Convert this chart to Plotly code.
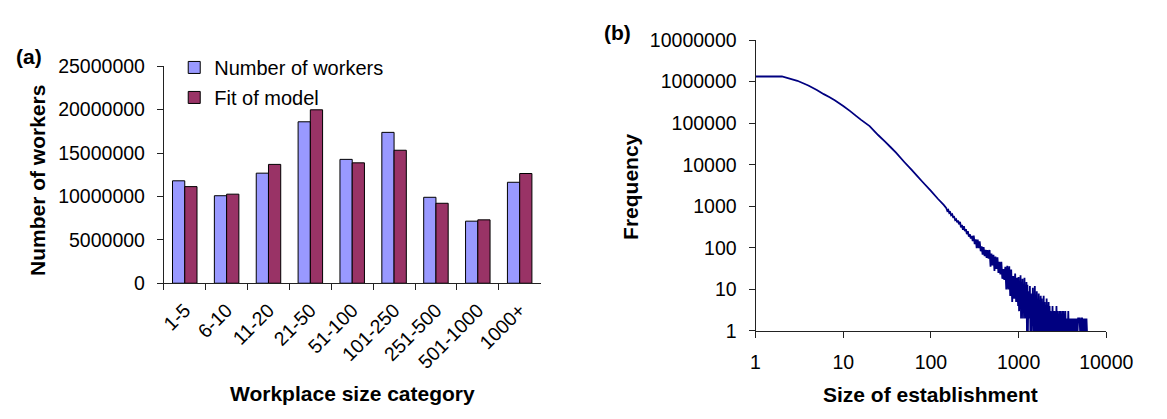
import plotly.graph_objects as go

# ---------------- panel (a) data ----------------
categories = ["1-5", "6-10", "11-20", "21-50", "51-100", "101-250", "251-500", "501-1000", "1000+"]
workers = [11800000, 10080000, 12680000, 18600000, 14270000, 17380000, 9900000, 7150000, 11630000]
fit_model = [11130000, 10260000, 13690000, 19980000, 13870000, 15320000, 9210000, 7300000, 12640000]
a_yticks = [0, 5000000, 10000000, 15000000, 20000000, 25000000]

# ---------------- panel (b) data ----------------
# smooth head of the distribution
head_size = [1, 2, 3, 4, 5, 6, 7, 8, 10, 12, 14, 16, 20, 25, 30, 35, 40, 50, 60, 70, 80, 100, 120, 140]
head_freq = [1330000, 1330000, 1050000, 810000, 630000, 500000, 420000, 355000, 260000, 195000,
             150000, 120000, 85000, 52000, 36000, 26000, 19500, 11500, 7600, 5300, 3900, 2350, 1520, 1080]
# middle part, scatter growing
mid_size = [150, 154, 158, 162, 166, 170, 175, 179, 184, 189, 194, 199,
            204, 209, 215, 220, 226, 232, 238, 244, 251, 257, 264, 271, 278, 285, 293, 300,
            308, 316, 325, 333, 342, 351, 360, 370, 379, 389, 399, 410, 421, 432, 443, 455,
            467, 479, 491, 504, 517, 531, 545, 559, 574, 589, 604, 620, 636, 653, 670, 688, 706,
            724, 743, 763, 783, 803, 824, 846, 868, 891, 914, 938, 963, 988]
mid_freq = [906, 772, 814, 691, 718, 608, 639, 550, 560, 467, 488, 411,
            458, 367, 421, 311, 355, 271, 333, 255, 281, 214, 254, 186, 212, 168, 193, 146,
            197, 123, 160, 99, 158, 98, 144, 83, 108, 69, 104, 63, 90, 57, 88, 55,
            89, 35, 73, 38, 68, 28, 62, 31, 59, 25, 46, 23, 46, 18, 31, 17, 35,
            10, 37, 10, 36, 7, 30, 5, 21, 6, 24, 5, 19, 4]
# noisy tail (small integer counts)
tail_size = [1000, 1013, 1026, 1039, 1053, 1067, 1081, 1095, 1109, 1123, 1138, 1153, 1168, 1183, 1198,
             1214, 1230,
             1246, 1262, 1278, 1295, 1312, 1329, 1346, 1364, 1381, 1399, 1418, 1436, 1455, 1474, 1493,
             1512, 1532, 1552, 1572, 1592,
             1613, 1634, 1655, 1677, 1699, 1721, 1743, 1766, 1789, 1812, 1836, 1860, 1884, 1908, 1933,
             1958, 1984, 2009, 2036, 2062, 2089, 2116, 2144, 2172, 2200, 2228,
             2257, 2287, 2316, 2347, 2377, 2408, 2439, 2471, 2503, 2536, 2569, 2602, 2636, 2670, 2705,
             2740, 2776, 2812, 2849, 2886, 2923, 2961, 3000, 3039, 3078, 3118, 3159, 3200, 3242, 3284, 3326,
             3370, 3413, 3458, 3503, 3548, 3594, 3641, 3689, 3737, 3785, 3834, 3884, 3935, 3986, 4038,
             4090, 4143, 4197, 4252, 4307, 4363, 4420, 4477, 4535, 4594, 4654, 4714, 4775, 4838, 4900,
             4964, 5029, 5094, 5160, 5228, 5296, 5364, 5434, 5505, 5577, 5649, 5723, 5797, 5873, 5949, 6027]
tail_freq = [20, 3, 16, 4, 22, 2, 14, 5, 18, 2, 12, 3, 19, 2, 11,
             4, 15,
             1, 13, 1, 9, 3, 2, 12, 1, 8, 1, 4, 3, 11, 1, 7,
             1, 12, 1, 6, 1,
             9, 1, 5, 1, 8, 1, 4, 1, 7, 1, 6, 1, 3, 1, 7,
             1, 5, 1, 4, 1, 6, 1, 3, 1, 5, 1,
             4, 1, 3, 1, 2, 1, 4, 1, 3, 1, 3, 1, 2, 1, 4,
             1, 3, 1, 2, 1, 3, 1, 3, 1, 2, 1, 3, 1, 3, 1, 2,
             1, 3, 1, 2, 1, 2, 1, 3, 1, 2, 1, 2, 1, 2, 1,
             2, 1, 2, 1, 2, 1, 2, 1, 2, 1, 2, 1, 2, 2, 2,
             2, 1, 2, 1, 2, 2, 1, 2, 1, 2, 1, 2, 1, 1, 2, 1]
b_yticks = [1, 10, 100, 1000, 10000, 100000, 1000000, 10000000]
b_xticks = [1, 10, 100, 1000, 10000]

size_all = head_size + mid_size + tail_size
freq_all = head_freq + mid_freq + tail_freq

W, H = 1167, 419
FONT = "Liberation Sans, Arial, sans-serif"
AX = "#222222"


def px(x):
    return x / W


def py(y):
    return 1 - y / H


fig = go.Figure()
fig.add_trace(go.Bar(x=categories, y=workers, name="Number of workers", legendgroup="a",
                     marker=dict(color="#9999FF", line=dict(color="#000000", width=1)),
                     xaxis="x", yaxis="y"))
fig.add_trace(go.Bar(x=categories, y=fit_model, name="Fit of model", legendgroup="b",
                     marker=dict(color="#993366", line=dict(color="#000000", width=1)),
                     xaxis="x", yaxis="y"))
fig.add_trace(go.Scatter(x=size_all, y=freq_all, mode="lines", showlegend=False,
                         line=dict(color="#000080", width=1.8, simplify=False),
                         xaxis="x2", yaxis="y2"))

tickfont = dict(family=FONT, size=19.5, color="#000000")
titlefont = dict(family=FONT, size=21, color="#000000")

fig.update_layout(
    width=W, height=H, autosize=False,
    margin=dict(l=0, r=0, t=0, b=0),
    paper_bgcolor="white", plot_bgcolor="white",
    barmode="group", bargap=0.415, bargroupgap=0,
    font=dict(family=FONT, color="#000000"),
    showlegend=True,
    legend=dict(x=px(174), y=py(39), xanchor="left", yanchor="top",
                font=dict(family=FONT, size=20, color="#000000"),
                traceorder="grouped", tracegroupgap=1, bgcolor="rgba(0,0,0,0)"),
    xaxis=dict(domain=[px(163.3), px(550.7)], anchor="y", type="category",
               showline=True, linecolor=AX, linewidth=1, ticks="outside", ticklen=6,
               tickcolor=AX, tickson="boundaries", tickangle=-45, tickfont=tickfont,
               showgrid=False, zeroline=False, ticklabelstandoff=7),
    yaxis=dict(domain=[py(287.3), py(58.3)], anchor="x", range=[0, 25000000],
               tickvals=a_yticks, ticktext=[str(v) for v in a_yticks],
               showline=True, linecolor=AX, linewidth=1, ticks="outside", ticklen=6,
               tickcolor=AX, tickfont=tickfont, showgrid=False, zeroline=False,
               ticklabelstandoff=8),
    xaxis2=dict(domain=[px(771.7), px(1132.3)], anchor="y2", type="log", range=[0, 4],
                tickvals=b_xticks, ticktext=[str(v) for v in b_xticks],
                showline=True, linecolor=AX, linewidth=1, ticks="outside", ticklen=6,
                tickcolor=AX, tickfont=tickfont, showgrid=False, zeroline=False,
                ticklabelstandoff=8),
    yaxis2=dict(domain=[py(337.7), py(30.7)], anchor="x2", type="log", range=[0, 7],
                tickvals=b_yticks, ticktext=[str(v) for v in b_yticks],
                showline=True, linecolor=AX, linewidth=1, ticks="outside", ticklen=6,
                tickcolor=AX, tickfont=tickfont, showgrid=False, zeroline=False,
                ticklabelstandoff=8),
)

ann = [
    dict(text="<b>(a)</b>", x=px(25), y=py(47.5), font=titlefont),
    dict(text="<b>(b)</b>", x=px(630), y=py(22.5), font=titlefont),
    dict(text="<b>Number of workers</b>", x=px(33.3), y=py(179), textangle=-90, font=titlefont),
    dict(text="<b>Workplace size category</b>", x=px(357), y=py(404), font=titlefont),
    dict(text="<b>Frequency</b>", x=px(643.3), y=py(185), textangle=-90, font=titlefont),
    dict(text="<b>Size of establishment</b>", x=px(952), y=py(405), font=titlefont),
]
for a in ann:
    fig.add_annotation(xref="paper", yref="paper", showarrow=False,
                       xanchor="center", yanchor="middle", **a)

fig.write_html("out.html", config={"displayModeBar": False},
               post_script="document.body.style.margin='0';")
